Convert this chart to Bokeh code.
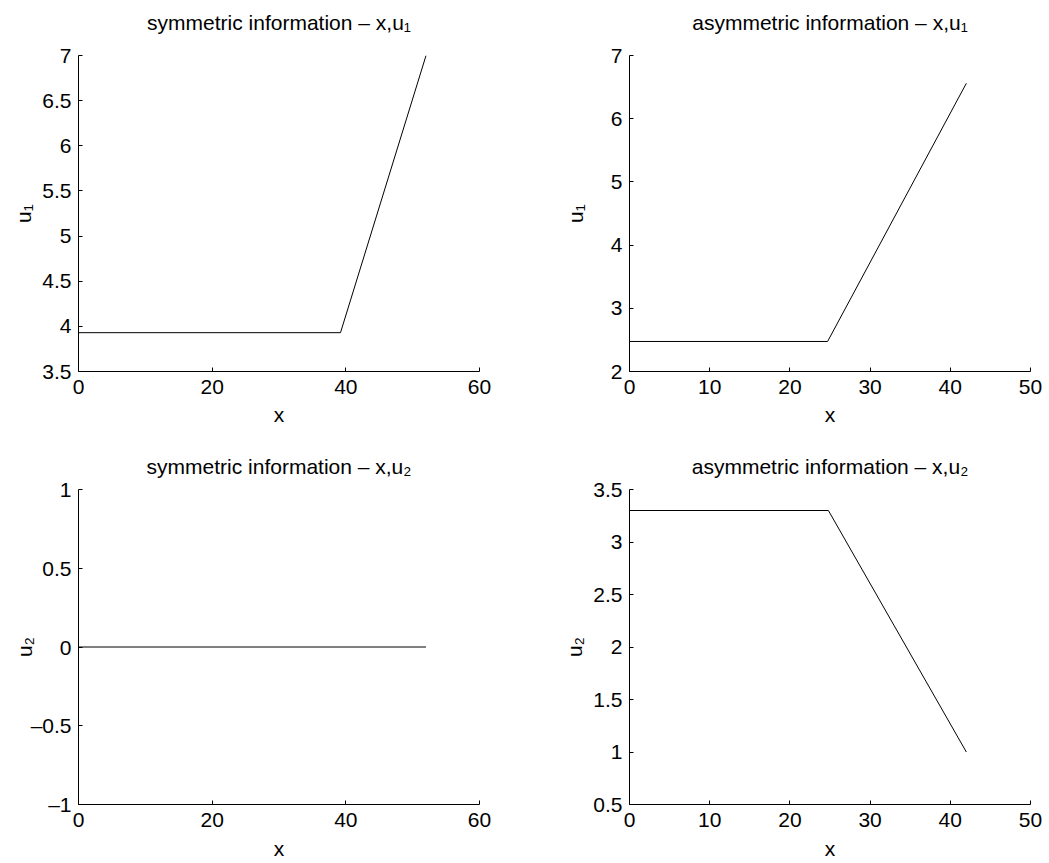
from bokeh.plotting import figure
from bokeh.models import Range1d, FixedTicker, LinearAxis
from bokeh.layouts import column, row
from bokeh.embed import file_html
from bokeh.resources import INLINE

FONT = "Liberation Sans"
FS = 21      # font size (px)

# ---------------- data ----------------
sym_u1_x = [0, 39.2, 52]
sym_u1_y = [3.93, 3.93, 7.0]

asym_u1_x = [0, 24.7, 42]
asym_u1_y = [2.475, 2.475, 6.56]

sym_u2_x = [0, 52]
sym_u2_y = [0, 0]

asym_u2_x = [0, 24.8, 42]
asym_u2_y = [3.30, 3.30, 1.0]

titles = ["symmetric information \u2013 x,u\u2081", "asymmetric information \u2013 x,u\u2081",
          "symmetric information \u2013 x,u\u2082", "asymmetric information \u2013 x,u\u2082"]
ylabels = ["u\u2081", "u\u2081", "u\u2082", "u\u2082"]
xlabel = "x"

sym_x_ticks = [0, 20, 40, 60]
sym_x_labels = ["0", "20", "40", "60"]
asym_x_ticks = [0, 10, 20, 30, 40, 50]
asym_x_labels = ["0", "10", "20", "30", "40", "50"]

sym_u1_y_ticks = [3.5, 4, 4.5, 5, 5.5, 6, 6.5, 7]
sym_u1_y_labels = ["3.5", "4", "4.5", "5", "5.5", "6", "6.5", "7"]
asym_u1_y_ticks = [2, 3, 4, 5, 6, 7]
asym_u1_y_labels = ["2", "3", "4", "5", "6", "7"]
sym_u2_y_ticks = [-1, -0.5, 0, 0.5, 1]
sym_u2_y_labels = ["\u20131", "\u20130.5", "0", "0.5", "1"]
asym_u2_y_ticks = [0.5, 1, 1.5, 2, 2.5, 3, 3.5]
asym_u2_y_labels = ["0.5", "1", "1.5", "2", "2.5", "3", "3.5"]

# Arial / Liberation Sans advance widths (per 1000 em), used to keep the y label at a fixed offset
ARIAL = {"0": 556, "1": 556, "2": 556, "3": 556, "4": 556, "5": 556, "6": 556, "7": 556,
         ".": 278, "\u2013": 556}


def tw(s, size):
    return sum(ARIAL.get(ch, 556) for ch in s) * size / 1000.0


def style_label(ax):
    ax.axis_label_text_font = FONT
    ax.axis_label_text_font_size = f"{FS}px"
    ax.axis_label_text_font_style = "normal"
    ax.axis_label_text_color = "black"


def panel(xs, ys, xr, yr, xt, xl, yt, yl, title, ylab,
          width, height, bl, br, bt, bb, title_mode, tstand, xstand):
    p = figure(width=width, height=height, x_range=Range1d(*xr), y_range=Range1d(*yr),
               output_backend="svg", toolbar_location=None,
               min_border_left=bl, min_border_right=br, min_border_top=bt, min_border_bottom=bb,
               background_fill_color="white", border_fill_color="white")
    p.line(xs, ys, line_color="black", line_width=1)
    p.grid.visible = False
    p.outline_line_color = None
    for ax, ticks, labels in ((p.xaxis[0], xt, xl), (p.yaxis[0], yt, yl)):
        ax.ticker = FixedTicker(ticks=ticks, minor_ticks=[])
        ax.major_label_overrides = {(int(t) if float(t).is_integer() else t): l
                                    for t, l in zip(ticks, labels)}
        ax.major_tick_in = 4
        ax.major_tick_out = 0
        ax.minor_tick_line_color = None
        ax.axis_line_color = "black"
        ax.major_tick_line_color = "black"
        ax.major_label_text_font = FONT
        ax.major_label_text_font_size = f"{FS}px"
        ax.major_label_text_color = "black"
        style_label(ax)
    p.xaxis.major_label_standoff = 8
    p.yaxis.major_label_standoff = 7
    p.xaxis.axis_label = xlabel
    p.xaxis.axis_label_standoff = xstand
    p.yaxis.axis_label = ylab
    maxw = max(tw(s, FS) for s in yl)
    p.yaxis.axis_label_standoff = int(round(40 - maxw - 7))

    if title_mode == "axis":
        # title drawn as the label of an empty axis above the frame
        tax = LinearAxis(axis_label=title, ticker=FixedTicker(ticks=[], minor_ticks=[]),
                         axis_line_color=None, major_tick_line_color=None,
                         minor_tick_line_color=None, major_label_text_font_size="0px",
                         major_tick_in=0, major_tick_out=0, major_label_standoff=0,
                         axis_label_standoff=tstand)
        style_label(tax)
        p.add_layout(tax, "above")
    else:
        p.title.text = title
        p.title.align = "center"
        p.title.text_font = FONT
        p.title.text_font_size = f"{FS}px"
        p.title.text_font_style = "normal"
        p.title.text_color = "black"
        p.title.standoff = tstand
    return p


p1 = panel(sym_u1_x, sym_u1_y, (0, 60), (3.5, 7), sym_x_ticks, sym_x_labels,
           sym_u1_y_ticks, sym_u1_y_labels, titles[0], ylabels[0],
           550, 439, 78, 71, 55, 68, "axis", 22, 6)
p2 = panel(asym_u1_x, asym_u1_y, (0, 50), (2, 7), asym_x_ticks, asym_x_labels,
           asym_u1_y_ticks, asym_u1_y_labels, titles[1], ylabels[1],
           499, 439, 79, 19, 55, 68, "axis", 22, 6)
p3 = panel(sym_u2_x, sym_u2_y, (0, 60), (-1, 1), sym_x_ticks, sym_x_labels,
           sym_u2_y_ticks, sym_u2_y_labels, titles[2], ylabels[2],
           550, 424, 78, 71, 50, 59, "title", 23, 7)
p4 = panel(asym_u2_x, asym_u2_y, (0, 50), (0.5, 3.5), asym_x_ticks, asym_x_labels,
           asym_u2_y_ticks, asym_u2_y_labels, titles[3], ylabels[3],
           499, 424, 79, 19, 50, 59, "title", 23, 7)

layout = column(row(p1, p2, spacing=0), row(p3, p4, spacing=0), spacing=0)

with open("out.html", "w") as f:
    f.write(file_html(layout, INLINE))
